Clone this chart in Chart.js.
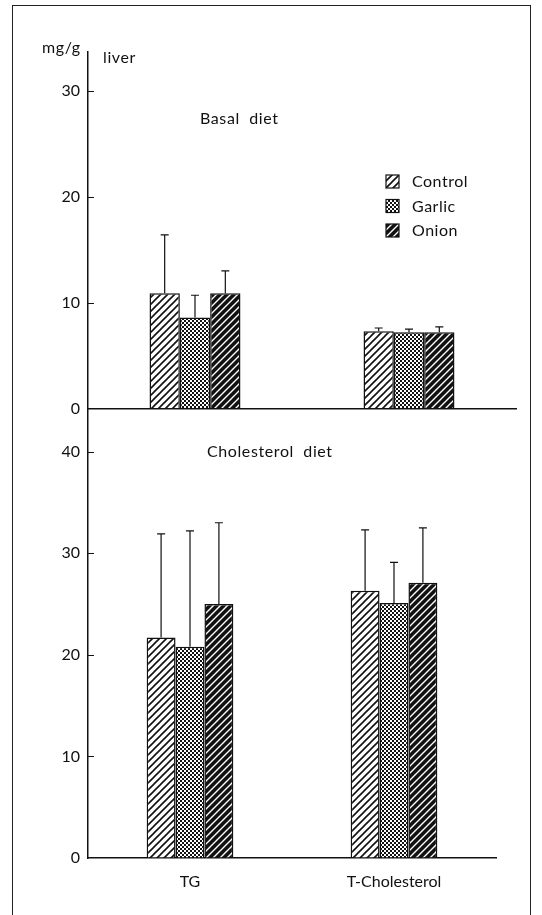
<!DOCTYPE html>
<html>
<head>
<meta charset="utf-8">
<script src="https://cdn.jsdelivr.net/npm/chart.js@4.4.1/dist/chart.umd.min.js"></script>
<style>
  body { margin: 0; background: #fff; }
  #page { position: relative; width: 542px; height: 915px; overflow: hidden; font-family: Lato, sans-serif; color: #111; }
  #frame { position: absolute; left: 12px; top: 5px; width: 517px; height: 940px; border: 1.5px solid #222; }
  canvas { position: absolute; left: 0; top: 0; }
  .lbl { position: absolute; font-size: 16px; line-height: 16px; letter-spacing: 0.6px; white-space: pre; }
</style>
</head>
<body>
<div id="page">
  <div id="frame"></div>
  <canvas id="bottomChart" width="542" height="915"></canvas>
  <canvas id="topChart" width="542" height="426"></canvas>
  <div class="lbl" style="left:42px; top:39px;">mg/g</div>
  <div class="lbl" style="left:103px; top:49px;">liver</div>
  <div class="lbl" style="left:200px; top:110px;">Basal  diet</div>
  <div class="lbl" style="left:207px; top:443px;">Cholesterol  diet</div>
</div>
<script>
// data
const categories = ["TG", "T-Cholesterol"];
const series = ["Control", "Garlic", "Onion"];

// basal diet (mg/g liver), mean and SD
const basalControl = [10.9, 7.3];
const basalGarlic = [8.6, 7.2];
const basalOnion = [10.9, 7.2];
const basalControlSD = [5.5, 0.3];
const basalGarlicSD = [2.1, 0.3];
const basalOnionSD = [2.1, 0.5];

// cholesterol diet
const cholControl = [21.7, 26.3];
const cholGarlic = [20.8, 25.1];
const cholOnion = [25.0, 27.1];
const cholControlSD = [10.2, 6.0];
const cholGarlicSD = [11.4, 4.0];
const cholOnionSD = [8.0, 5.4];

const basalTicks = [0, 10, 20, 30];
const cholTicks = [0, 10, 20, 30, 40];

// hatch patterns
function stripes(bg, fg, w) {
  const c = document.createElement("canvas");
  c.width = c.height = 7;
  const g = c.getContext("2d");
  g.fillStyle = bg;
  g.fillRect(0, 0, 7, 7);
  g.strokeStyle = fg;
  g.lineWidth = w;
  g.beginPath();
  g.moveTo(-1, 8); g.lineTo(8, -1);
  g.moveTo(-1, 1); g.lineTo(1, -1);
  g.moveTo(6, 8); g.lineTo(8, 6);
  g.stroke();
  return g.createPattern(c, "repeat");
}
function checker() {
  const c = document.createElement("canvas");
  c.width = c.height = 4;
  const g = c.getContext("2d");
  g.fillStyle = "#fff";
  g.fillRect(0, 0, 4, 4);
  g.fillStyle = "#111";
  g.fillRect(0, 0, 2, 2);
  g.fillRect(2, 2, 2, 2);
  return g.createPattern(c, "repeat");
}
const fills = [stripes("#fff", "#111", 1.6), checker(), stripes("#111", "#fff", 1.4)];

const errorBars = {
  id: "errorBars",
  afterDatasetsDraw(chart) {
    const { ctx } = chart;
    const y = chart.scales.y;
    ctx.save();
    ctx.strokeStyle = "#111";
    ctx.lineWidth = 1.2;
    chart.data.datasets.forEach((ds, i) => {
      chart.getDatasetMeta(i).data.forEach((bar, j) => {
        const top = y.getPixelForValue(ds.data[j] + ds.sd[j]);
        ctx.beginPath();
        ctx.moveTo(bar.x, bar.y);
        ctx.lineTo(bar.x, top);
        ctx.moveTo(bar.x - 4, top);
        ctx.lineTo(bar.x + 4, top);
        ctx.stroke();
      });
    });
    ctx.restore();
  }
};

// short tick marks on the inside of the y axis
const innerTicks = {
  id: "innerTicks",
  afterDraw(chart) {
    const { ctx } = chart;
    const y = chart.scales.y;
    ctx.save();
    ctx.strokeStyle = "#111";
    ctx.lineWidth = 1;
    y.ticks.forEach(t => {
      if (t.value === 0) return;
      const py = Math.round(y.getPixelForValue(t.value)) + 0.5;
      ctx.beginPath();
      ctx.moveTo(y.right, py);
      ctx.lineTo(y.right + 6, py);
      ctx.stroke();
    });
    ctx.restore();
  }
};

const patternLegend = {
  id: "patternLegend",
  afterDraw(chart) {
    const { ctx } = chart;
    ctx.save();
    ctx.font = "16px Lato";
    ctx.letterSpacing = "0.5px";
    ctx.textBaseline = "middle";
    series.forEach((name, i) => {
      const top = 175 + i * 24.5;
      ctx.fillStyle = fills[i];
      ctx.fillRect(386, top, 13, 13);
      ctx.strokeStyle = "#111";
      ctx.lineWidth = 1.2;
      ctx.strokeRect(386, top, 13, 13);
      ctx.fillStyle = "#111";
      ctx.fillText(name, 412, top + 7);
    });
    ctx.restore();
  }
};

function makeDatasets(vals, sds) {
  return series.map((name, i) => ({
    label: name,
    data: vals[i],
    sd: sds[i],
    backgroundColor: fills[i],
    borderColor: "#111",
    borderWidth: 1.5,
    categoryPercentage: 0.425,
    barPercentage: 1
  }));
}

function makeChart(id, opts) {
  return new Chart(document.getElementById(id).getContext("2d"), {
    type: "bar",
    data: { labels: categories, datasets: makeDatasets(opts.vals, opts.sds) },
    options: {
      responsive: false,
      animation: false,
      layout: { padding: { top: opts.padTop, right: opts.padRight, left: 0, bottom: 0 } },
      plugins: { legend: { display: false }, tooltip: { enabled: false } },
      scales: {
        x: {
          ticks: { display: opts.showX, color: "#111", font: { family: "Lato", size: 16 }, padding: 14 },
          grid: { display: true, drawOnChartArea: false, drawTicks: false },
          border: { display: true, color: "#111", width: 1.5 },
          afterFit(s) { s.height = opts.xHeight; }
        },
        y: {
          min: 0,
          max: opts.max,
          afterBuildTicks(s) { s.ticks = opts.ticks.map(v => ({ value: v })); },
          ticks: { color: "#111", font: { family: "Lato", size: 16 }, padding: 8 },
          grid: { display: true, drawOnChartArea: false, drawTicks: false },
          border: { display: true, color: "#111", width: 1.5 },
          afterFit(s) { s.width = 88; }
        }
      }
    },
    plugins: opts.plugins
  });
}

makeChart("topChart", {
  vals: [basalControl, basalGarlic, basalOnion],
  sds: [basalControlSD, basalGarlicSD, basalOnionSD],
  padTop: 52, padRight: 26, xHeight: 5, showX: false,
  max: 33.7, ticks: basalTicks,
  plugins: [errorBars, innerTicks, patternLegend]
});

makeChart("bottomChart", {
  vals: [cholControl, cholGarlic, cholOnion],
  sds: [cholControlSD, cholGarlicSD, cholOnionSD],
  padTop: 410, padRight: 46, xHeight: 57, showX: true,
  max: 44.1, ticks: cholTicks,
  plugins: [errorBars, innerTicks]
});
</script>
</body>
</html>
